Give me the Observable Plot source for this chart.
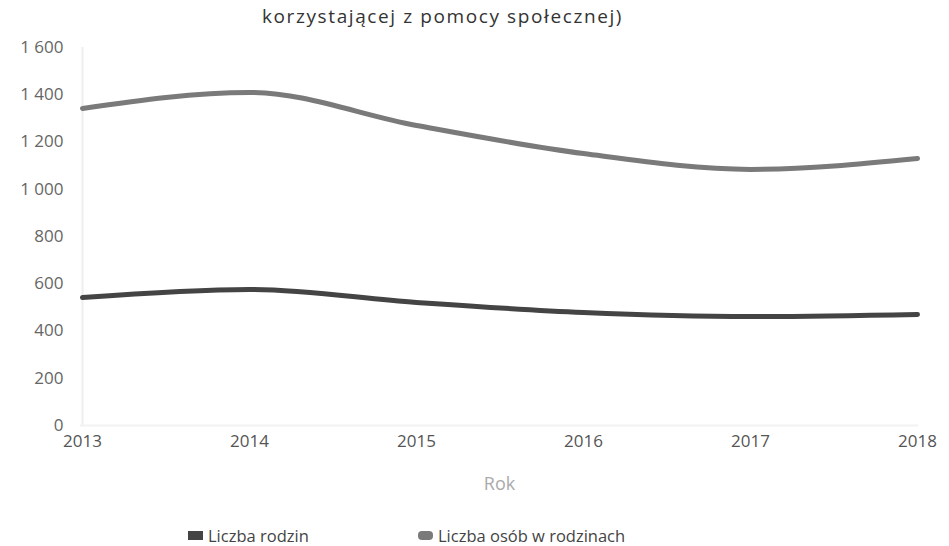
<!DOCTYPE html>
<html>
<head>
<meta charset="utf-8">
<script src="https://cdn.jsdelivr.net/npm/d3@7"></script>
<script src="https://cdn.jsdelivr.net/npm/@observablehq/plot@0.6"></script>
<style>
  body { margin: 0; background: #fff; font-family: "Open Sans", sans-serif; width: 949px; height: 546px; overflow: hidden; position: relative; }
  #title { position: absolute; top: 5px; left: 262px; font-size: 19px; letter-spacing: 1.6px; line-height: 22px; color: #333; white-space: nowrap; }
  #chart { position: absolute; top: 0; left: 0; }
  #legend { position: absolute; top: 524px; left: 0; width: 949px; font-size: 16.5px; color: #444; }
  .item { position: absolute; top: 0; display: flex; align-items: center; gap: 5px; white-space: nowrap; }
  .sw { display: inline-block; width: 15px; height: 9px; }
</style>
</head>
<body>
<div id="title">korzystającej z pomocy społecznej)</div>
<div id="chart"></div>
<div id="legend"></div>
<script>
const years = ["2013", "2014", "2015", "2016", "2017", "2018"];
const rodziny = [542, 576, 521, 478, 461, 470];
const osoby = [1342, 1410, 1270, 1151, 1084, 1130];
const seriesNames = ["Liczba rodzin", "Liczba osób w rodzinach"];
const seriesColors = ["#444444", "#7a7a7a"];
const yTicks = [0, 200, 400, 600, 800, 1000, 1200, 1400, 1600];

const data = [];
years.forEach((y, i) => {
  data.push({year: y, value: rodziny[i], series: seriesNames[0]});
  data.push({year: y, value: osoby[i], series: seriesNames[1]});
});

const fmt = v => d3.format(",")(v).replace(/,/g, " ");

const plot = Plot.plot({
  width: 949,
  height: 505,
  marginTop: 47,
  marginBottom: 80,
  marginLeft: 80,
  marginRight: 31,
  style: {fontFamily: "Open Sans, sans-serif", fontSize: "17px", color: "#555", background: "transparent"},
  x: {type: "point", domain: years, padding: 0},
  y: {domain: [0, 1600]},
  color: {domain: seriesNames, range: seriesColors},
  marks: [
    Plot.ruleX([years[0]], {stroke: "#eee", strokeWidth: 2}),
    Plot.ruleY([0], {stroke: "#f2f2f2", strokeWidth: 2}),
    Plot.axisY({ticks: yTicks, tickFormat: fmt, tickSize: 0, tickPadding: 17, label: null, fill: "#666"}),
    Plot.axisX({tickSize: 0, tickPadding: 9, label: "Rok", labelAnchor: "center", labelOffset: 64, fill: "#555"}),
    Plot.lineY(data, {x: "year", y: "value", stroke: "series", z: "series", strokeWidth: 5, curve: "monotone-x"})
  ]
});
plot.querySelectorAll("[aria-label='x-axis label'] text, [aria-label='x-axis label']").forEach(el => {
  el.setAttribute("fill", "#aaa");
  el.style.fontSize = "18px";
});
document.getElementById("chart").appendChild(plot);

const legend = document.getElementById("legend");
const positions = [188, 418];
seriesNames.forEach((n, i) => {
  const it = document.createElement("div");
  it.className = "item";
  it.style.left = positions[i] + "px";
  const sw = document.createElement("span");
  sw.className = "sw";
  sw.style.background = seriesColors[i];
  if (i === 1) sw.style.borderRadius = "4px";
  const t = document.createElement("span");
  t.textContent = n;
  it.appendChild(sw);
  it.appendChild(t);
  legend.appendChild(it);
});
</script>
</body>
</html>
